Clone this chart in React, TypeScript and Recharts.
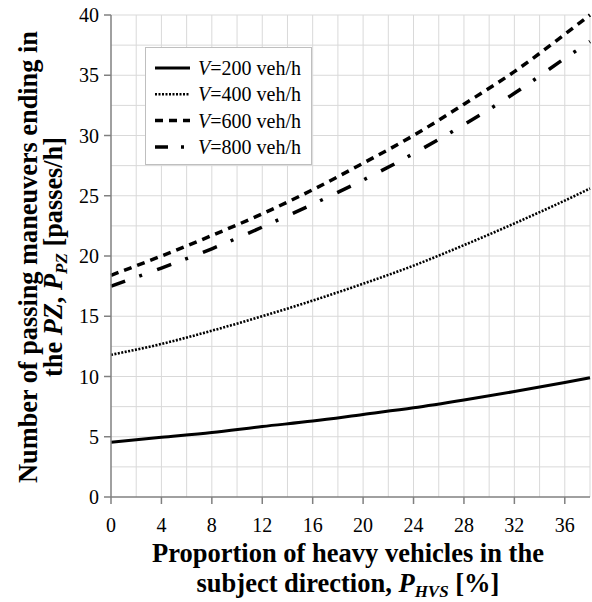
import React from "react";
import { LineChart, Line, XAxis, YAxis, ReferenceLine, Label } from "recharts";

const xValues = [0, 4, 8, 12, 16, 20, 24, 28, 32, 36, 38];
const v200 = [4.55, 4.95, 5.35, 5.85, 6.3, 6.85, 7.4, 8.05, 8.75, 9.5, 9.9];
const v400 = [11.8, 12.7, 13.8, 15.0, 16.3, 17.7, 19.2, 20.9, 22.7, 24.6, 25.6];
const v600 = [18.4, 20.0, 21.7, 23.5, 25.5, 27.7, 30.0, 32.6, 35.3, 38.4, 40.0];
const v800 = [17.5, 19.0, 20.6, 22.4, 24.3, 26.3, 28.5, 30.9, 33.5, 36.4, 37.8];

const xTicks = [0, 4, 8, 12, 16, 20, 24, 28, 32, 36];
const yTicks = [0, 5, 10, 15, 20, 25, 30, 35, 40];
const xGrid = [2, 4, 6, 8, 10, 12, 14, 16, 18, 20, 22, 24, 26, 28, 30, 32, 34, 36, 38];
const yGrid = [2.5, 5, 7.5, 10, 12.5, 15, 17.5, 20, 22.5, 25, 27.5, 30, 32.5, 35, 37.5, 40];

const seriesNames = ["200", "400", "600", "800"];

const data = xValues.map((x, i) => ({ x, v200: v200[i], v400: v400[i], v600: v600[i], v800: v800[i] }));

const FONT = "'Liberation Serif', 'Times New Roman', Times, serif";

const styles = [
  { key: "v200", dash: undefined as string | undefined, legendDash: undefined as string | undefined, width: 3 },
  { key: "v400", dash: "2 1.5", legendDash: "2 1.5", width: 2.6 },
  { key: "v600", dash: "8 6", legendDash: "8 6", width: 3.5 },
  { key: "v800", dash: "15 15 3 16", legendDash: "13 13 3 40", width: 3.5 },
];

const LegendBox = () => (
  <svg
    width={168}
    height={119}
    style={{ position: "absolute", left: 145, top: 47, display: "block" }}
  >
    <rect x={0.5} y={0.5} width={166} height={117} fill="#fff" stroke="#bfbfbf" strokeWidth={1} />
    {seriesNames.map((n, i) => {
      const y = 21 + i * 26.3;
      return (
        <g key={n}>
          <line x1={10} y1={y} x2={45} y2={y} stroke="#000" strokeWidth={styles[i].width} strokeDasharray={styles[i].legendDash} />
          <text x={53} y={y + 7} fontFamily={FONT} style={{ fontFamily: FONT }} fontSize={20} fill="#000">
            <tspan fontStyle="italic">V</tspan>={n} veh/h
          </text>
        </g>
      );
    })}
  </svg>
);

const XTick = (props: any) => {
  const { x, y, payload } = props;
  return (
    <text x={x} y={y + 14} textAnchor="middle" fontFamily={FONT} style={{ fontFamily: FONT }} fontSize={20} fill="#000">
      {payload.value}
    </text>
  );
};

const YTick = (props: any) => {
  const { x, y, payload } = props;
  return (
    <text x={x - 1} y={y + 7} textAnchor="end" fontFamily={FONT} style={{ fontFamily: FONT }} fontSize={20} fill="#000">
      {payload.value}
    </text>
  );
};

const YLabel = () => {
  const cy = 257;
  return (
    <g fontFamily={FONT} style={{ fontFamily: FONT }}>
      <text
        x={37}
        y={cy}
        transform={`rotate(-90, 37, ${cy})`}
        textAnchor="middle"
        fontWeight="bold"
        fontSize={26.3}
        fill="#000"
      >
        Number of passing maneuvers ending in
      </text>
      <text
        x={62}
        y={cy}
        transform={`rotate(-90, 62, ${cy})`}
        textAnchor="middle"
        fontWeight="bold"
        fontSize={26.3}
        fill="#000"
      >
        the <tspan fontStyle="italic">PZ</tspan>, <tspan fontStyle="italic">P</tspan>
        <tspan fontStyle="italic" fontSize={17} dy={5}>PZ</tspan>
        <tspan dy={-5}> [passes/h]</tspan>
      </text>
    </g>
  );
};

const XLabel = () => (
  <g fontFamily={FONT} style={{ fontFamily: FONT }}>
    <text x={348} y={562} textAnchor="middle" fontWeight="bold" fontSize={26.5} fill="#000">
      Proportion of heavy vehicles in the
    </text>
    <text x={348} y={592} textAnchor="middle" fontWeight="bold" fontSize={26.5} fill="#000">
      subject direction, <tspan fontStyle="italic">P</tspan>
      <tspan fontStyle="italic" fontSize={17} dy={5}>HVS</tspan>
      <tspan dy={-5}> [%]</tspan>
    </text>
  </g>
);

export default function App() {
  return (
    <div style={{ position: "absolute", left: 0, top: 0, width: 592, height: 602, background: "#fff" }}>
      <LineChart width={592} height={602} data={data} margin={{ top: 15, right: 2, bottom: 0, left: 51 }}>
        {xGrid.map((v) => (
          <ReferenceLine key={"gx" + v} x={v} stroke="#d9d9d9" strokeWidth={1} ifOverflow="visible" />
        ))}
        {yGrid.map((v) => (
          <ReferenceLine key={"gy" + v} y={v} stroke="#d9d9d9" strokeWidth={1} ifOverflow="visible" />
        ))}
        <XAxis
          dataKey="x"
          type="number"
          domain={[0, 38]}
          ticks={xTicks}
          height={105}
          stroke="#808080"
          strokeWidth={1.5}
          tickSize={7}
          tickMargin={14}
          tick={<XTick />}
          interval={0}
        >
          <Label content={() => <XLabel />} />
        </XAxis>
        <YAxis
          type="number"
          domain={[0, 40]}
          ticks={yTicks}
          width={60}
          stroke="#808080"
          strokeWidth={1.5}
          tickSize={7}
          tickMargin={4}
          tick={<YTick />}
          interval={0}
        >
          <Label content={() => <YLabel />} />
        </YAxis>
        {styles.map((s) => (
          <Line
            key={s.key}
            dataKey={s.key}
            type="monotone"
            stroke="#000"
            strokeWidth={s.width}
            strokeDasharray={s.dash}
            dot={false}
            activeDot={false}
            isAnimationActive={false}
          />
        ))}
      </LineChart>
      <LegendBox />
    </div>
  );
}
